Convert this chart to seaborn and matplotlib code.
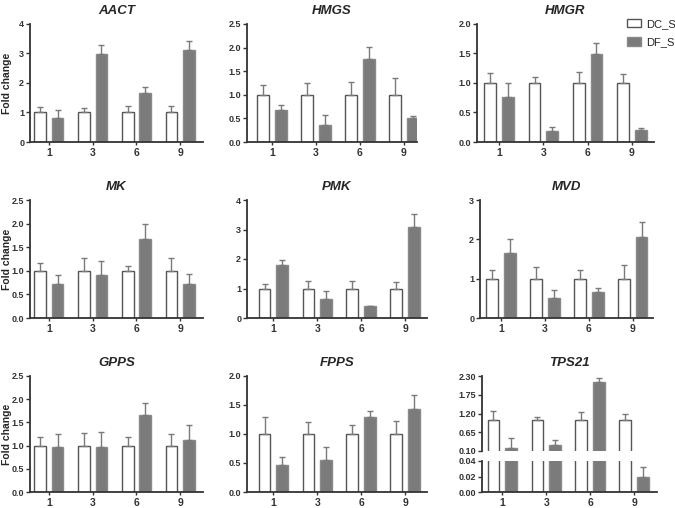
import numpy as np
import pandas as pd
import matplotlib
matplotlib.use('Agg')
import matplotlib.pyplot as plt
from matplotlib.patches import Patch
import seaborn as sns

# sampling days and the two treatments
days = ['1', '3', '6', '9']
groups = ['DC_S', 'DF_S']

# fold change means (DC is the reference = 1) and upper SD
aact_dc = [1.0, 1.0, 1.0, 1.0]
aact_dc_sd = [0.17, 0.14, 0.22, 0.23]
aact_df = [0.82, 2.97, 1.67, 3.13]
aact_df_sd = [0.26, 0.31, 0.21, 0.28]

hmgs_dc = [1.0, 1.0, 1.0, 1.0]
hmgs_dc_sd = [0.20, 0.24, 0.27, 0.36]
hmgs_df = [0.68, 0.37, 1.75, 0.50]
hmgs_df_sd = [0.11, 0.21, 0.26, 0.06]

hmgr_dc = [1.0, 1.0, 1.0, 1.0]
hmgr_dc_sd = [0.17, 0.11, 0.18, 0.15]
hmgr_df = [0.77, 0.19, 1.49, 0.20]
hmgr_df_sd = [0.23, 0.07, 0.18, 0.03]

mk_dc = [1.0, 1.0, 1.0, 1.0]
mk_dc_sd = [0.16, 0.28, 0.11, 0.28]
mk_df = [0.71, 0.91, 1.67, 0.71]
mk_df_sd = [0.20, 0.29, 0.32, 0.22]

pmk_dc = [1.0, 1.0, 1.0, 1.0]
pmk_dc_sd = [0.14, 0.25, 0.26, 0.22]
pmk_df = [1.78, 0.63, 0.39, 3.10]
pmk_df_sd = [0.20, 0.27, 0.03, 0.42]

mvd_dc = [1.0, 1.0, 1.0, 1.0]
mvd_dc_sd = [0.21, 0.30, 0.23, 0.35]
mvd_df = [1.66, 0.51, 0.67, 2.07]
mvd_df_sd = [0.36, 0.19, 0.09, 0.37]

gpps_dc = [1.0, 1.0, 1.0, 1.0]
gpps_dc_sd = [0.18, 0.27, 0.19, 0.24]
gpps_df = [0.96, 0.98, 1.65, 1.11]
gpps_df_sd = [0.28, 0.32, 0.26, 0.34]

fpps_dc = [1.0, 1.0, 1.0, 1.0]
fpps_dc_sd = [0.30, 0.20, 0.15, 0.23]
fpps_df = [0.47, 0.55, 1.29, 1.43]
fpps_df_sd = [0.14, 0.22, 0.11, 0.25]

tps21_dc = [1.0, 1.0, 1.0, 1.0]
tps21_dc_sd = [0.28, 0.11, 0.23, 0.20]
tps21_df = [0.20, 0.28, 2.13, 0.020]
tps21_df_sd = [0.28, 0.15, 0.10, 0.012]

WHITE = '#ffffff'
GRAY = '#7b7b7b'
DC_EDGE = '#555555'
ERR = '#7a7a7a'
SPINE = '#333333'

sns.set_style('ticks')
plt.rcParams['font.family'] = ['Liberation Sans', 'DejaVu Sans']
plt.rcParams['axes.edgecolor'] = SPINE
plt.rcParams['axes.linewidth'] = 1.3
plt.rcParams['xtick.color'] = SPINE
plt.rcParams['ytick.color'] = SPINE
plt.rcParams['xtick.major.size'] = 2.5
plt.rcParams['ytick.major.size'] = 3
plt.rcParams['xtick.major.width'] = 1.0
plt.rcParams['ytick.major.width'] = 1.0

W, H = 675, 508
fig = plt.figure(figsize=(W / 100, H / 100), dpi=100)


def rect(l, t, r, b):
    return [l / W, 1 - b / H, (r - l) / W, (b - t) / H]


def make_frame(dc, df):
    return pd.DataFrame({
        'day': days * 2,
        'group': [groups[0]] * 4 + [groups[1]] * 4,
        'fold': list(dc) + list(df),
    })


def draw_bars(ax, dc, dc_sd, df, df_sd, xlim):
    sns.barplot(data=make_frame(dc, df), x='day', y='fold', hue='group',
                order=days, hue_order=groups, palette=[WHITE, GRAY],
                width=0.8, gap=0.33, errorbar=None, legend=False, ax=ax,
                linewidth=1.0, edgecolor=DC_EDGE, saturation=1)
    conts = list(ax.containers[:2])
    for p in conts[1]:
        p.set_edgecolor('#8a8a8a')
    for cont, sd in zip(conts, [dc_sd, df_sd]):
        xs = [p.get_x() + p.get_width() / 2 for p in cont]
        hs = [p.get_height() for p in cont]
        ax.errorbar(xs, hs, yerr=[np.zeros(len(sd)), sd], fmt='none',
                    ecolor=ERR, elinewidth=1.0, capsize=2.5, capthick=1.0,
                    zorder=1)
    ax.set_xlim(*xlim)
    ax.set_xlabel('')
    ax.set_ylabel('')
    sns.despine(ax=ax)
    ax.tick_params(axis='x', labelsize=7.5, pad=1.5)
    ax.tick_params(axis='y', labelsize=6.5, pad=1.2)
    for lab in ax.get_xticklabels() + ax.get_yticklabels():
        lab.set_fontweight('bold')


def set_y(ax, lim, ticks, fmt):
    ax.set_ylim(*lim)
    ax.set_yticks(ticks)
    ax.set_yticklabels([fmt.format(t) for t in ticks], fontweight='bold', fontsize=6.5)


def title(ax, text):
    ax.set_title(text, fontsize=9.5, fontweight='bold', fontstyle='italic', pad=7)


panels = [
    ('AACT', aact_dc, aact_dc_sd, aact_df, aact_df_sd, (0, 4), [0, 1, 2, 3, 4], '{:.0f}',
     (30, 24, 203, 142), (-0.43, 3.52), True),
    ('HMGS', hmgs_dc, hmgs_dc_sd, hmgs_df, hmgs_df_sd, (0, 2.5), [0, 0.5, 1, 1.5, 2, 2.5], '{:.1f}',
     (247, 24, 417, 142), (-0.57, 3.3), False),
    ('HMGR', hmgr_dc, hmgr_dc_sd, hmgr_df, hmgr_df_sd, (0, 2), [0, 0.5, 1, 1.5, 2], '{:.1f}',
     (477, 24, 654, 142), (-0.5, 3.5), False),
    ('MK', mk_dc, mk_dc_sd, mk_df, mk_df_sd, (0, 2.5), [0, 0.5, 1, 1.5, 2, 2.5], '{:.1f}',
     (30, 200, 203, 318), (-0.43, 3.52), True),
    ('PMK', pmk_dc, pmk_dc_sd, pmk_df, pmk_df_sd, (0, 4), [0, 1, 2, 3, 4], '{:.0f}',
     (247, 200, 427, 318), (-0.6, 3.5), False),
    ('MVD', mvd_dc, mvd_dc_sd, mvd_df, mvd_df_sd, (0, 3), [0, 1, 2, 3], '{:.0f}',
     (480, 200, 653, 318), (-0.48, 3.46), False),
    ('GPPS', gpps_dc, gpps_dc_sd, gpps_df, gpps_df_sd, (0, 2.5), [0, 0.5, 1, 1.5, 2, 2.5], '{:.1f}',
     (30, 376, 203, 492), (-0.43, 3.52), True),
    ('FPPS', fpps_dc, fpps_dc_sd, fpps_df, fpps_df_sd, (0, 2), [0, 0.5, 1, 1.5, 2], '{:.1f}',
     (247, 376, 427, 492), (-0.6, 3.5), False),
]

for name, dc, dc_sd, df, df_sd, lim, ticks, fmt, box, xlim, ylab in panels:
    ax = fig.add_axes(rect(*box))
    draw_bars(ax, dc, dc_sd, df, df_sd, xlim)
    set_y(ax, lim, ticks, fmt)
    title(ax, name)
    if ylab:
        ax.set_ylabel('Fold change', fontsize=7.5, fontweight='bold')
        # right edge of the rotated label sits just left of the tick labels
        ax.yaxis.set_label_coords(12 / W, 1 - ((box[1] + box[3]) / 2) / H,
                                  transform=fig.transFigure)

# TPS21 with a broken y axis
ax_top = fig.add_axes(rect(482, 376, 657, 451))
ax_bot = fig.add_axes(rect(482, 461, 657, 492))
for ax in (ax_top, ax_bot):
    draw_bars(ax, tps21_dc, tps21_dc_sd, tps21_df, tps21_df_sd, (-0.46, 3.52))
set_y(ax_top, (0.10, 2.30), [0.10, 0.65, 1.20, 1.75, 2.30], '{:.2f}')
set_y(ax_bot, (0, 0.04), [0, 0.02, 0.04], '{:.2f}')
ax_top.spines['bottom'].set_visible(False)
ax_top.tick_params(axis='x', bottom=False, labelbottom=False)
title(ax_top, 'TPS21')

# legend next to HMGR
handles = [Patch(facecolor=WHITE, edgecolor=DC_EDGE, linewidth=1.0, label=groups[0]),
           Patch(facecolor=GRAY, edgecolor='#8a8a8a', linewidth=1.0, label=groups[1])]
fig.legend(handles=handles, loc='upper left', bbox_to_anchor=(627 / W, 1 - 19 / H),
           frameon=False, fontsize=8, handlelength=1.25, handleheight=0.75,
           handletextpad=0.45, labelspacing=0.75, borderaxespad=0, borderpad=0)

fig.savefig('out.png', dpi=100)
